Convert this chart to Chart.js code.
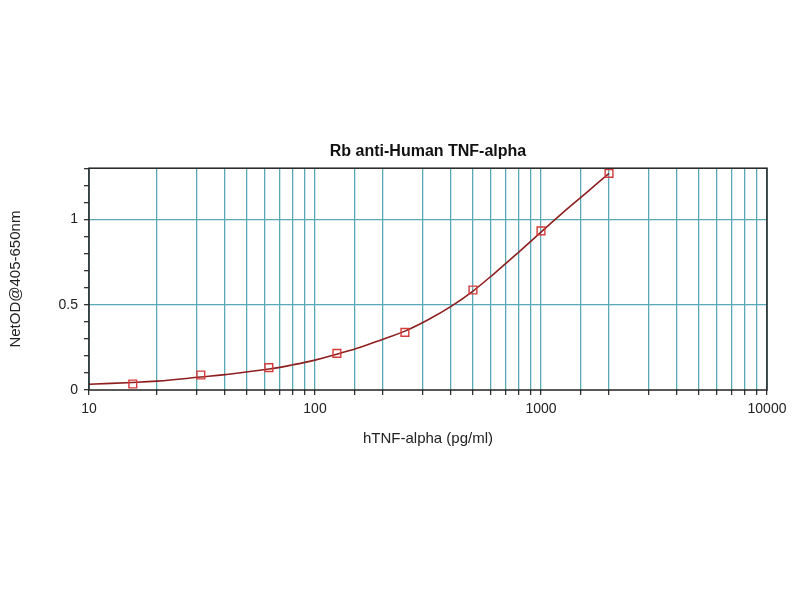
<!DOCTYPE html>
<html>
<head>
<meta charset="utf-8">
<script src="https://cdn.jsdelivr.net/npm/chart.js@4.4.1/dist/chart.umd.min.js"></script>
<style>
  html, body { margin: 0; padding: 0; background: #ffffff; }
  canvas { display: block; }
</style>
</head>
<body>
<canvas id="c" width="800" height="600"></canvas>
<script>
// Standards (pg/ml) and measured OD
const concentrations = [15.625, 31.25, 62.5, 125, 250, 500, 1000, 2000];
const netOD = [0.035, 0.088, 0.131, 0.215, 0.338, 0.586, 0.933, 1.27];

// Fitted curve
const fitConc = [10, 15.6, 20, 31.25, 40, 62.5, 80, 100, 125, 160, 200, 250, 315, 400, 500, 630, 800, 1000, 1250, 1600, 2000];
const fitOD = [0.034, 0.044, 0.052, 0.076, 0.090, 0.123, 0.148, 0.175, 0.210, 0.252, 0.298, 0.345, 0.410, 0.490, 0.580, 0.690, 0.810, 0.925, 1.040, 1.160, 1.270];

const yLabels = ['0', '0.5', '1'];
const xLabels = ['10', '100', '1000', '10000'];

const chartTitle = 'Rb anti-Human TNF-alpha';
const xTitle = 'hTNF-alpha (pg/ml)';
const yTitle = 'NetOD@405-650nm';

const GRID = '#5aa9b6';
const FONT = '"Liberation Sans", Arial, sans-serif';

const framePlugin = {
  id: 'frame',
  afterDatasetsDraw(chart) {
    const a = chart.chartArea, ctx = chart.ctx;
    ctx.save();
    ctx.strokeStyle = '#222';
    ctx.lineWidth = 1.5;
    ctx.strokeRect(a.left, a.top, a.right - a.left, a.bottom - a.top);
    ctx.restore();
  }
};

function fixPad(scale) {
  scale.paddingLeft = 0; scale.paddingRight = 0;
  scale.paddingTop = 0; scale.paddingBottom = 0;
}

new Chart(document.getElementById('c'), {
  type: 'scatter',
  data: {
    datasets: [
      {
        label: 'fit',
        type: 'line',
        data: fitConc.map((x, i) => ({ x: x, y: fitOD[i] })),
        borderColor: '#8e1f1f',
        borderWidth: 1.6,
        pointRadius: 0,
        fill: false,
        tension: 0.4,
        order: 2
      },
      {
        label: 'standards',
        data: concentrations.map((x, i) => ({ x: x, y: netOD[i] })),
        pointStyle: 'rect',
        pointRadius: 5.5,
        pointBorderColor: '#d43a3a',
        pointBackgroundColor: 'rgba(255,255,255,0)',
        pointBorderWidth: 1.4,
        showLine: false,
        order: 1
      }
    ]
  },
  options: {
    responsive: false,
    animation: false,
    devicePixelRatio: 1,
    layout: { padding: { left: 7, right: 33, top: 142, bottom: 152 } },
    plugins: {
      legend: { display: false },
      tooltip: { enabled: false },
      title: {
        display: true,
        fullSize: false,
        text: chartTitle,
        color: '#111',
        font: { family: FONT, size: 16, weight: 'bold' },
        padding: { top: 0, bottom: 7 }
      }
    },
    scales: {
      x: {
        type: 'logarithmic',
        min: 10,
        max: 10000,
        afterFit(scale) { scale.height = 58; fixPad(scale); },
        border: { display: false },
        grid: {
          color: GRID,
          lineWidth: 1.3,
          drawTicks: true,
          tickLength: 5,
          tickColor: '#333'
        },
        ticks: {
          autoSkip: false,
          maxRotation: 0,
          padding: 6,
          color: '#222',
          font: { family: FONT, size: 14 },
          callback(value) {
            const s = String(value);
            return xLabels.includes(s) ? s : '';
          }
        },
        title: {
          display: true,
          text: xTitle,
          color: '#222',
          font: { family: FONT, size: 15 },
          padding: { top: 0, bottom: 0 }
        }
      },
      y: {
        type: 'linear',
        min: 0,
        max: 1.3,
        afterFit(scale) { scale.width = 82; fixPad(scale); },
        border: { display: false },
        grid: {
          color(ctx) {
            const v = ctx.tick ? ctx.tick.value : 0;
            return (Math.abs(v - 0.5) < 1e-6 || Math.abs(v - 1) < 1e-6) ? GRID : 'rgba(0,0,0,0)';
          },
          lineWidth: 1.3,
          drawTicks: true,
          tickLength: 5,
          tickColor: '#333'
        },
        ticks: {
          stepSize: 0.1,
          autoSkip: false,
          padding: 6,
          color: '#222',
          font: { family: FONT, size: 14 },
          callback(value) {
            const s = String(Math.round(value * 10) / 10);
            return yLabels.includes(s) ? s : '';
          }
        },
        title: {
          display: true,
          text: yTitle,
          color: '#222',
          font: { family: FONT, size: 15 },
          padding: { top: 0, bottom: 0 }
        }
      }
    }
  },
  plugins: [framePlugin]
});
</script>
</body>
</html>
